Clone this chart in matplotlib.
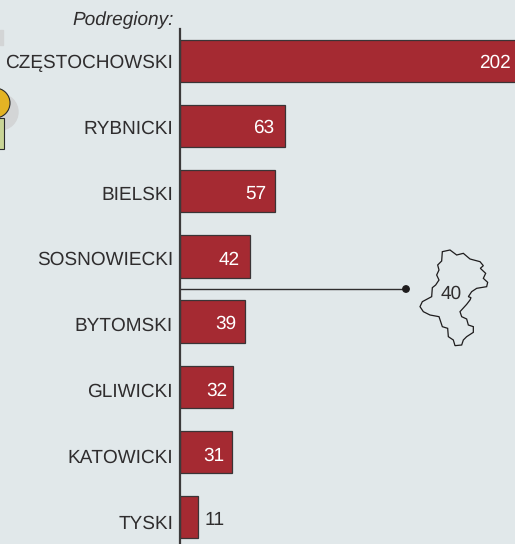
import matplotlib
matplotlib.use('Agg')
import matplotlib.pyplot as plt
from matplotlib.patches import Circle, Polygon, Rectangle
from matplotlib.transforms import Affine2D

plt.rcParams['font.family'] = ['Liberation Sans', 'DejaVu Sans']
plt.rcParams['text.hinting'] = 'no_hinting'
plt.rcParams['text.hinting_factor'] = 1

names = ['CZĘSTOCHOWSKI', 'RYBNICKI', 'BIELSKI', 'SOSNOWIECKI', 'BYTOMSKI', 'GLIWICKI', 'KATOWICKI', 'TYSKI']
values = [202, 63, 57, 42, 39, 32, 31, 11]
region_value = 40

# hand placement of the value labels, in px: gap to bar end and shift down
value_gap = [5, 10, 8, 9, 8, 5, 6, -6]
value_shift = [0, 0, 1, 2, 1, 2, 2, 1]

# outline of the voivodeship, traced in pixels of the reference
outline_top = [(50, 155), (52, 128), (62, 120), (72, 105), (65, 90), (72, 75), (68, 60), (80, 48),
               (82, 20), (105, 15), (125, 30), (145, 25), (165, 42), (195, 50), (205, 62), (196, 70),
               (212, 85), (205, 100), (218, 112), (215, 125), (185, 130), (170, 140), (160, 155)]
outline_bottom = [(168, 8), (165, 15), (155, 28), (135, 50), (140, 65), (155, 72), (160, 90), (175, 95),
                  (175, 112), (155, 125), (145, 135), (140, 150), (120, 152), (115, 135), (100, 125),
                  (98, 100), (82, 95), (72, 65), (45, 60), (25, 50), (15, 35), (22, 20), (50, 5)]
outline = [(415 + x / 3, 245 + y / 3) for x, y in outline_top] + \
          [(415 + x / 3, 295 + y / 3) for x, y in outline_bottom]

BG = '#e1e8ea'
BAR = '#a52a32'
DARK = '#2f2d2e'
W, H = 515, 544
PX_PER_UNIT = 1.667
X0 = 180
Y0, ROW = 61, 65.15
LABEL_ROW = 65.9
FS = 13.5
PT = 0.72  # points per pixel at dpi 100

fig = plt.figure(figsize=(W / 100, H / 100), dpi=100, facecolor=BG)
ax = fig.add_axes([0, 0, 1, 1], facecolor=BG)
ax.set_xlim(-X0 / PX_PER_UNIT, (W - X0) / PX_PER_UNIT)
ax.set_ylim((H - Y0) / ROW, -Y0 / ROW)
ax.axis('off')

# pixel coordinates, y down, for the decoration
px = Affine2D().scale(1, -1).translate(0, H)

ax.barh(range(len(values)), values, height=0.65, color=BAR, edgecolor='#3a3436', linewidth=0.9, zorder=2)

for i, (n, v) in enumerate(zip(names, values)):
    # the labels run on a slightly wider spacing than the bars
    ax.text(173, Y0 + LABEL_ROW * i + 6.6, n, transform=px, ha='right', va='baseline', fontsize=FS, color=DARK)
    dy = (-6.6 - value_shift[i]) * PT
    if v > 20:
        ax.annotate(str(v), (v, i), xytext=(-(value_gap[i] + 1) * PT, dy), textcoords='offset points', ha='right',
                    va='baseline', fontsize=FS, color='white', zorder=3, annotation_clip=False)
    else:
        ax.annotate(str(v), (v, i), xytext=(-value_gap[i] * PT, dy), textcoords='offset points', ha='left',
                    va='baseline', fontsize=FS, color=DARK, zorder=3, annotation_clip=False)

# vertical axis and leader line
ax.add_artist(plt.Line2D([X0, X0], [29, H], color='#3c3a3b', lw=1.6, transform=px, zorder=4))
ax.add_artist(plt.Line2D([X0, 406], [289, 289], color=DARK, lw=1.0, transform=px, zorder=1))
ax.add_artist(Circle((406, 289), 3.2, color='#1e1c1d', transform=px, zorder=4))

ax.add_patch(Polygon(outline, closed=True, fill=False, edgecolor='#1e1c1d', lw=0.9, transform=px))
ax.text(451, 299, str(region_value), transform=px, ha='center', va='baseline', fontsize=FS, color=DARK)

ax.text(173.5, 25, 'Podregiony:', transform=px, ha='right', va='baseline', fontsize=13.5, style='italic', color=DARK)

# bit of the neighbouring graphic cut off at the left edge
ax.add_patch(Circle((0, 112), 18, color='#d3d5d6', transform=px, zorder=0))
ax.add_patch(Rectangle((0, 30), 3, 15, color='#d3d5d6', transform=px, zorder=0))
ax.add_patch(Circle((-5, 103), 15, facecolor='#e3b324', edgecolor='#2a2a2a', lw=0.8, transform=px, zorder=1))
ax.add_patch(Rectangle((-3, 118), 6.5, 31, facecolor='#c9d596', edgecolor='#2a2a2a', lw=0.8, transform=px, zorder=1))

fig.savefig('out.png', dpi=100, facecolor=BG)
